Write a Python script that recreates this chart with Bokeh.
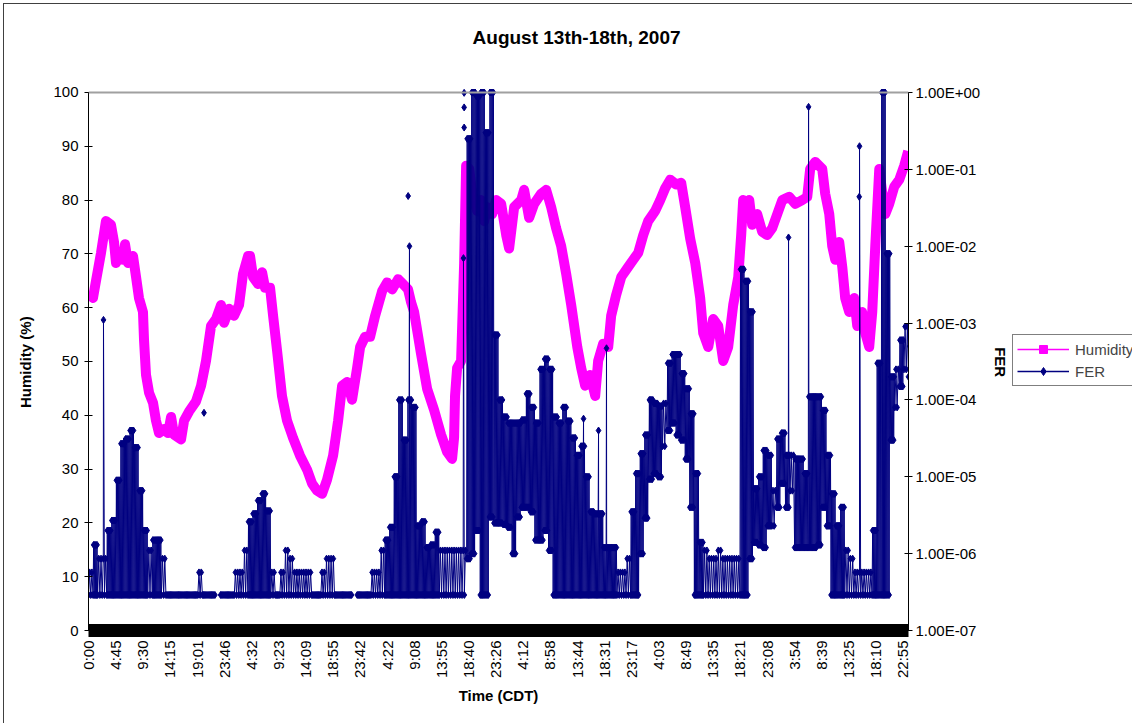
import math
import numpy as np
from bokeh.plotting import figure
from bokeh.layouts import row
from bokeh.models import (Range1d, LogScale, LogAxis, FixedTicker, CustomJSTickFormatter,
                          Legend, LegendItem, Span, Label)
from bokeh.embed import file_html
from bokeh.resources import INLINE

# ---------------- data ----------------
TITLE = "August 13th-18th, 2007"
time_labels = ["0:00", "4:45", "9:30", "14:15", "19:01", "23:46", "4:32", "9:23", "14:09",
               "18:55", "23:42", "4:22", "9:08", "13:55", "18:40", "23:26", "4:12", "8:58",
               "13:44", "18:31", "23:17", "4:03", "8:49", "13:35", "18:21", "23:08", "3:54",
               "8:39", "13:25", "18:10", "22:55"]
label_step = 286          # samples between two time labels
n_samples = 8640          # samples on the category axis

hum_ticks = [0, 10, 20, 30, 40, 50, 60, 70, 80, 90, 100]
fer_ticks = [1e-7, 1e-6, 1e-5, 1e-4, 1e-3, 1e-2, 1e-1, 1e0]

# Humidity (%) read at sample indices
hum_idx = [0, 47, 79, 132, 184, 237, 269, 290, 321, 364, 385, 416, 469, 501, 532, 574, 585, 606, 638, 680,
           711, 743, 796, 838, 870, 901, 975, 1007, 1059, 1133, 1186, 1238, 1291, 1344, 1397, 1428, 1481,
           1534, 1586, 1628, 1681,
           1702, 1734, 1787, 1829, 1860, 1913, 1945, 1987, 2039, 2092, 2155, 2229, 2303, 2356, 2408, 2461,
           2513, 2577, 2630, 2672, 2725, 2777, 2830, 2862, 2914, 2967, 3020, 3094, 3146, 3199, 3262, 3315,
           3367, 3399,
           3431, 3504, 3568, 3641, 3715, 3778, 3831, 3852, 3862, 3884, 3926, 3958, 3979, 4011, 4042, 4095,
           4137, 4169, 4200, 4253, 4295, 4348, 4401, 4432, 4485, 4559, 4590, 4643, 4696, 4770, 4822, 4875,
           4927, 4980, 5033, 5086, 5150,
           5191, 5233, 5286, 5339, 5370, 5423, 5476, 5507, 5560, 5613, 5687, 5739, 5792, 5845, 5897, 5971,
           6024, 6076, 6129, 6192, 6245, 6287, 6340, 6393, 6445, 6477, 6530, 6582, 6635, 6688, 6740, 6793,
           6846, 6877, 6898,
           6920, 6962, 6993, 7046, 7099, 7151, 7204, 7257, 7310, 7383, 7446, 7520, 7573, 7604, 7657, 7731,
           7762, 7805, 7836, 7868, 7910, 7942, 7973, 8015, 8068, 8100, 8152, 8184, 8226, 8258, 8290, 8332,
           8364, 8395, 8437, 8490, 8543, 8595, 8637]
hum_val = [63, 61.8, 65, 70.2, 76.1, 75.4, 72.2, 68.3, 69.6, 68.9, 71.8, 68.3, 69.6, 65.7, 61.8, 59.2, 54,
           47.5, 44.2, 42.3, 39, 36.7, 37.4, 36.7, 39.7, 36.4, 35.5, 39, 40.7, 42.6, 45.5, 50.1, 56.6, 57.9,
           60.5, 57.2, 59.8, 58.5, 60.5, 66.3, 69.6,
           69.6, 65.7, 64.4, 66.6, 63.7, 63.7, 58.5, 52, 43.6, 39, 35.8, 32.5, 29.9, 27.3, 26, 25.4, 28,
           32.5, 39, 45.5, 46.2, 42.9, 48.8, 52.7, 54.6, 54.6, 58.5, 63.1, 64.7, 63.4, 65.3, 64.4, 63.4, 61,
           59.2, 51.4, 44.9, 41, 36.4, 33.2, 31.9, 35.8, 43.6, 48.8, 50.1, 68.3, 86.4, 85.8, 81.2, 78, 80,
           76.1, 78.7, 77.4, 80, 79.3, 73.5, 71, 78.7, 80, 81.9, 76.7, 79.3, 81.2, 81.9, 78.7, 74.8, 71.5,
           66.3, 60.5, 52.7,
           48.8, 45.5, 47.5, 43.6, 50.1, 53.3, 52.7, 58.5, 62.4, 65.7, 67.6, 68.9, 70.2, 73.5, 76.1, 78, 80,
           82.2, 83.8, 82.9, 83.2, 78.7, 72.8, 68.3, 61.8, 55.3, 52.7, 57.9, 56.6, 50.1, 52.7, 60.5, 65.7,
           73.5, 80,
           79.3, 80, 75.4, 77.4, 74.1, 73.5, 74.8, 77.4, 80, 80.6, 79.3, 80, 80.6, 85.8, 87.1, 85.8, 81.2,
           77.4, 71.5, 68.9, 72.2, 67.6, 61.8, 59.2, 61.8, 56.6, 59.2, 55.3, 52.7, 59.2, 71.5, 85.8, 81.2,
           77.4, 79.3, 82.5, 83.8, 86.4, 89.1]

# FER read as low / high envelope per column of 48 samples (None = no data)
fer_col_step = 48
fer_lo = [2.9e-7, 2.9e-7, 2.9e-7, 2.9e-7, 2.9e-7, 2.9e-7, 2.9e-7, 2.9e-7, 2.9e-7, 2.9e-7,
          2.9e-7, 2.9e-7, 2.9e-7, 2.9e-7, 2.9e-7, 2.9e-7, 2.9e-7, 2.9e-7, 2.9e-7, 2.9e-7,
          2.9e-7, 2.9e-7, 2.9e-7, 2.9e-7, 2.9e-7, 2.9e-7, 2.9e-7, 2.9e-7, None, 2.9e-7,
          2.9e-7, 2.9e-7, 2.9e-7, 2.9e-7, 2.9e-7, 2.9e-7, 2.9e-7, 2.9e-7, 2.9e-7, 2.9e-7,
          2.9e-7, 2.9e-7, 2.9e-7, 2.9e-7, 2.9e-7, 2.9e-7, 2.9e-7, 2.9e-7, 2.9e-7, 2.9e-7,
          2.9e-7, 2.9e-7, 2.9e-7, 2.9e-7, 2.9e-7, 2.9e-7, 2.9e-7, 2.9e-7, None, 2.9e-7,
          2.9e-7, 2.9e-7, 2.9e-7, 2.9e-7, 2.9e-7, 2.9e-7, 2.9e-7, 2.9e-7, 2.9e-7, 2.9e-7,
          2.9e-7, 2.9e-7, 2.9e-7, 2.9e-7, 2.9e-7, 2.9e-7, 2.9e-7, 2.9e-7, 2.9e-7, 2.9e-7,
          2.9e-7, 2.9e-7, 2.9e-7, 8.6e-7, 1.0e-6, 2.0e-6, 2.9e-7, 2.9e-7, 3.0e-6, 2.5e-6,
          2.5e-6, 2.4e-6, 2.2e-6, 1.0e-6, 3.0e-6, 4.0e-6, 4.0e-6, 3.5e-6, 1.5e-6, 1.5e-6,
          2.0e-6, 1.1e-6, 2.9e-7, 2.9e-7, 2.9e-7, 2.9e-7, 2.9e-7, 2.9e-7, 2.9e-7, 2.9e-7,
          2.9e-7, 2.9e-7, 2.9e-7, 2.9e-7, 2.9e-7, 2.9e-7, 2.9e-7, 2.9e-7, 2.9e-7, 2.9e-7,
          2.9e-7, 1.0e-6, 2.9e-6, 9.3e-6, 1.1e-5, 1.0e-5, 2.5e-5, 4.0e-5, 5.0e-5, 3.5e-5,
          3.0e-5, 1.7e-5, 4.0e-6, 2.9e-7, 2.9e-7, 2.9e-7, 2.9e-7, 2.9e-7, 2.9e-7, 2.9e-7,
          2.9e-7, 2.9e-7, 2.9e-7, 2.9e-7, 2.9e-7, 8.6e-7, 1.4e-6, 1.3e-6, 1.2e-6, 2.3e-6,
          2.3e-6, 4.0e-6, 8.2e-6, 4.0e-6, 6.6e-6, 1.2e-6, 1.2e-6, 1.2e-6, 1.2e-6, 1.2e-6,
          1.3e-6, 4.0e-6, 2.3e-6, 2.9e-7, 2.9e-7, 2.9e-7, 2.9e-7, 2.9e-7, 2.9e-7, 2.9e-7,
          2.9e-7, 2.9e-7, 2.9e-7, 2.9e-7, 2.9e-7, 2.9e-7, 3.0e-5, 8.0e-5, 1.5e-4, 2.5e-4,
          2.0e-4]
fer_hi = [5.7e-7, 1.3e-6, 8.6e-7, 8.6e-7, 2.0e-6, 2.7e-6, 9.0e-6, 2.7e-5, 3.1e-5, 4.0e-5,
          2.4e-5, 6.6e-6, 2.0e-6, 1.1e-6, 1.5e-6, 1.5e-6, 8.6e-7, 2.9e-7, 2.9e-7, 2.9e-7,
          2.9e-7, 2.9e-7, 2.9e-7, 2.9e-7, 5.7e-7, 2.9e-7, 2.9e-7, 2.9e-7, None, 2.9e-7,
          2.9e-7, 2.9e-7, 5.7e-7, 5.7e-7, 1.1e-6, 2.6e-6, 3.3e-6, 4.9e-6, 6.0e-6, 3.6e-6,
          5.7e-7, 2.9e-7, 5.7e-7, 1.1e-6, 8.6e-7, 5.7e-7, 5.7e-7, 5.7e-7, 5.7e-7, 2.9e-7,
          2.9e-7, 5.7e-7, 8.6e-7, 8.6e-7, 2.9e-7, 2.9e-7, 2.9e-7, 2.9e-7, None, 2.9e-7,
          2.9e-7, 2.9e-7, 5.7e-7, 5.7e-7, 1.1e-6, 1.5e-6, 2.2e-6, 1.0e-5, 1.0e-4, 3.0e-5,
          1.0e-4, 8.0e-5, 2.3e-6, 2.6e-6, 1.2e-6, 1.3e-6, 1.9e-6, 1.1e-6, 1.1e-6, 1.1e-6,
          1.1e-6, 1.1e-6, 1.1e-6, 0.25, 1.0, 0.9, 1.0, 0.3, 1.0, 7.0e-4,
          1.0e-4, 6.0e-5, 5.0e-5, 5.0e-5, 5.0e-5, 5.5e-5, 1.2e-4, 8.0e-5, 5.0e-5, 2.5e-4,
          3.4e-4, 2.5e-4, 6.0e-5, 5.0e-5, 8.0e-5, 5.3e-5, 3.2e-5, 1.9e-5, 2.5e-5, 1.0e-5,
          3.5e-6, 3.3e-6, 3.3e-6, 1.2e-6, 1.2e-6, 1.2e-6, 5.7e-7, 5.7e-7, 8.6e-7, 3.5e-6,
          1.1e-5, 2.0e-5, 3.5e-5, 1.0e-4, 9.0e-5, 8.3e-5, 9.0e-5, 3.0e-4, 3.9e-4, 3.9e-4,
          2.2e-4, 1.4e-4, 6.6e-5, 1.1e-5, 1.4e-6, 1.1e-6, 8.6e-7, 8.6e-7, 1.1e-6, 8.6e-7,
          8.6e-7, 8.6e-7, 8.6e-7, 5.0e-3, 3.5e-3, 1.4e-3, 7.0e-6, 1.0e-5, 2.2e-5, 1.9e-5,
          6.6e-6, 3.1e-5, 3.7e-5, 1.9e-5, 1.9e-5, 1.7e-5, 1.7e-5, 1.1e-5, 1.1e-4, 1.1e-4,
          1.1e-4, 7.3e-5, 1.9e-5, 6.0e-6, 2.3e-6, 4.0e-6, 1.1e-6, 8.6e-7, 5.7e-7, 5.7e-7,
          5.7e-7, 5.7e-7, 2.0e-6, 3.0e-4, 1.0, 8.0e-3, 2.0e-4, 2.5e-4, 6.0e-4, 9.0e-4,
          5.0e-4]
# single-sample FER spikes inside the trace
spike_idx = [158, 3382, 3951, 5216, 5374, 5458, 7376, 7587, 8124]
spike_fer = [1.1e-3, 1.0e-2, 7.0e-3, 5.7e-5, 4.0e-5, 4.7e-4, 1.3e-2, 0.65, 0.2]
# isolated FER readings (no neighbours)
iso_idx = [1217, 3368, 3958, 3958, 3958, 8121]
iso_fer = [6.8e-5, 4.5e-2, 0.99, 0.64, 0.35, 0.044]

assert len(hum_idx) == len(hum_val)
assert len(fer_lo) == len(fer_hi)
assert len(spike_idx) == len(spike_fer)

# table for the FER trace: each column alternates between its low and high reading
# (narrow ranges are drawn with fewer strokes so they stay hatched, as in the original)
pts = []
for i, (lo, hi) in enumerate(zip(fer_lo, fer_hi)):
    base = i * fer_col_step
    if lo is None:
        pts.append((base, np.nan))
        continue
    sub = 4 if hi / lo < 4 else 8
    for k in range(sub):
        v = lo if k % 2 == 0 else hi
        pts.append((base + k * fer_col_step / sub, v))
for sx, sv in zip(spike_idx, spike_fer):
    pts.append((sx, sv))
pts.sort(key=lambda t: t[0])
fer_x = [t[0] for t in pts]
fer_y = [t[1] for t in pts]

# ---------------- figure ----------------
MAGENTA = "#FF00FF"
NAVY = "#000080"
FONT = "Liberation Sans"
NBSP = "\u00a0"

HUM_TOP = 115.24      # room above 100 % for the chart title
FER_TOP = 11.67       # matching top of the log axis

p = figure(frame_width=820, frame_height=620, output_backend="svg", toolbar_location=None, tools="",
           x_range=Range1d(0, n_samples), y_range=Range1d(0, HUM_TOP),
           min_border_left=84, min_border_right=100, min_border_top=6, min_border_bottom=93)
p.extra_y_ranges = {"fer": Range1d(1e-7, FER_TOP)}
p.extra_y_scales = {"fer": LogScale()}
p.xgrid.visible = False
p.ygrid.visible = False
p.outline_line_color = None
p.background_fill_color = "white"
p.border_fill_color = "white"

# top border of the plot area
p.add_layout(Span(location=100, dimension="width", line_color="#a0a0a0", line_width=2))

# title
p.add_layout(Label(x=n_samples * 0.5952, y=110.2, text=TITLE, text_align="center",
                   text_baseline="middle", text_font=FONT, text_font_size="19px",
                   text_font_style="bold", text_color="black"))

# humidity
p.line(hum_idx, hum_val, line_color=MAGENTA, line_width=10, line_join="round")

# FER
p.line(fer_x, fer_y, y_range_name="fer", line_color=NAVY, line_width=1)
p.scatter(fer_x, fer_y, y_range_name="fer", marker="diamond", size=7,
          fill_color=NAVY, line_color=NAVY)
p.scatter(iso_idx, iso_fer, y_range_name="fer", marker="diamond", size=7,
          fill_color=NAVY, line_color=NAVY)

# x axis
xa = p.xaxis[0]
xa.ticker = FixedTicker(ticks=[k * label_step for k in range(len(time_labels))])
xa.major_label_overrides = {k * label_step: lab for k, lab in enumerate(time_labels)}
xa.major_label_orientation = math.pi / 2
xa.axis_line_width = 13
xa.axis_line_color = "black"
xa.major_tick_in = 0
xa.major_tick_out = 0
xa.minor_tick_line_color = None
xa.major_label_standoff = 10
xa.axis_label = "Time (CDT)"
xa.axis_label_standoff = 6

# left axis (label padded so that it centres on the 0-100 part of the axis)
ya = p.yaxis[0]
ya.ticker = FixedTicker(ticks=hum_ticks)
ya.bounds = (0, 100)
ya.axis_label = "Humidity (%)" + NBSP * 20
ya.major_tick_in = 4
ya.major_tick_out = 4
ya.minor_tick_line_color = None
ya.major_label_standoff = 6
ya.axis_label_standoff = 16

# right axis
ra = LogAxis(y_range_name="fer", ticker=FixedTicker(ticks=fer_ticks), bounds=(1e-7, 1),
             formatter=CustomJSTickFormatter(code="""
                 const e = Math.round(Math.log10(tick));
                 const s = e < 0 ? "-" : "+";
                 const a = Math.abs(e);
                 return "1.00E" + s + (a < 10 ? "0" : "") + a;
             """),
             axis_label=NBSP * 20 + "FER")
ra.major_tick_in = 4
ra.major_tick_out = 4
ra.minor_tick_line_color = None
ra.major_label_standoff = 3
ra.axis_label_standoff = 9
p.add_layout(ra, "right")

for ax in (xa, ya, ra):
    ax.major_label_text_font = FONT
    ax.major_label_text_font_size = "15px"
    ax.major_label_text_color = "black"
    ax.axis_label_text_font = FONT
    ax.axis_label_text_font_size = "15px"
    ax.axis_label_text_font_style = "bold"
    ax.axis_label_text_color = "black"
for ax in (ya, ra):
    ax.axis_line_color = "black"
    ax.major_tick_line_color = "black"

# legend, in its own narrow panel to the right of the chart
q = figure(width=120, height=719, output_backend="svg", toolbar_location=None, tools="",
           min_border=0, x_range=Range1d(0, 1), y_range=Range1d(0, 1))
q.axis.visible = False
q.grid.visible = False
q.outline_line_color = None
q.background_fill_color = "white"
q.border_fill_color = "white"
lh1 = q.line([np.nan], [np.nan], line_color=MAGENTA, line_width=1.5)
lh2 = q.scatter([np.nan], [np.nan], marker="square", size=7, fill_color=MAGENTA, line_color=MAGENTA)
lf1 = q.line([np.nan], [np.nan], line_color=NAVY, line_width=1.5)
lf2 = q.scatter([np.nan], [np.nan], marker="diamond", size=9, fill_color=NAVY, line_color=NAVY)
legend = Legend(items=[LegendItem(label="Humidity", renderers=[lh1, lh2]),
                       LegendItem(label="FER", renderers=[lf1, lf2])],
                location=(0, 244), glyph_width=52, glyph_height=20, label_height=20,
                label_standoff=6, padding=4, spacing=2, margin=0,
                label_text_font=FONT, label_text_font_size="15px",
                border_line_color="black", border_line_width=1,
                background_fill_color="white", background_fill_alpha=1)
q.add_layout(legend)

# chart-area border (top and left edges, as in the original)
layout = row(p, q, styles={"margin-left": "3px", "margin-top": "3px",
                           "border-left": "1px solid #404040", "border-top": "1px solid #404040"})

open("out.html", "w").write(file_html(layout, INLINE))
